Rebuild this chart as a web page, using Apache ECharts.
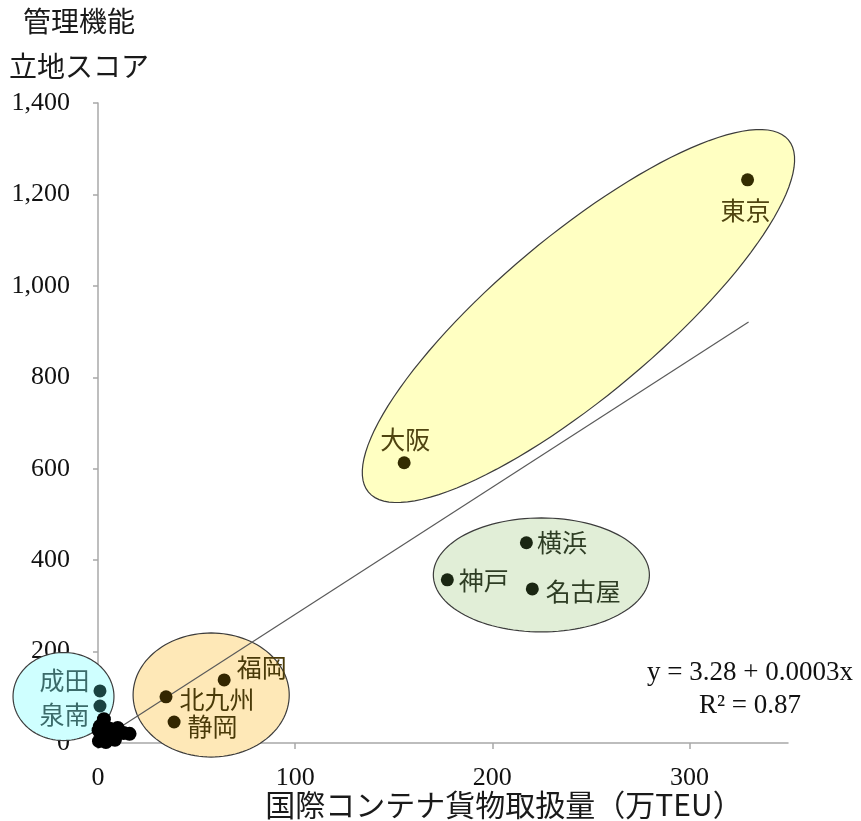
<!DOCTYPE html>
<html>
<head>
<meta charset="utf-8">
<title>管理機能立地スコアと国際コンテナ貨物取扱量</title>
<script src="https://cdn.jsdelivr.net/npm/echarts@6.0.0/dist/echarts.min.js"></script>
<style>
  html, body { margin: 0; padding: 0; background: #ffffff; }
  #chart { width: 861px; height: 821px; }
</style>
</head>
<body>
<div id="chart"></div>
<script>
// ---- data -------------------------------------------------------------
// named cities: container throughput (万TEU) and management-function score
const cities = ['東京', '大阪', '横浜', '神戸', '名古屋', '福岡', '北九州', '静岡', '成田', '泉南'];
const cityTeu = [329.5, 155.3, 217.3, 177.2, 220.3, 64.0, 34.5, 38.6, 1.0, 1.0];
const cityScore = [1232, 613, 438, 357, 337, 138, 101, 46, 114, 81];
const cityGroup = ['metro', 'metro', 'port', 'port', 'port', 'regional', 'regional', 'regional', 'airport', 'airport'];

// remaining small cities clustered near the origin
const otherTeu = [3.0, 1.0, 2.0, 0.5, 5.0, 7.6, 10.0, 13.0, 16.0, 8.6, 4.0, 6.0, 0.3];
const otherScore = [52, 37, 17, 4, 11, 26, 33, 22, 20, 7, 2, 31, 28];

// axis ticks
const xTicks = [0, 100, 200, 300];
const yTicks = [0, 200, 400, 600, 800, 1000, 1200, 1400];

// linear fit: y = 3.28 + 0.0003x (x in TEU) -> slope per 万TEU
const trendIntercept = 3.28;
const trendSlope = 2.78;
const trendRange = [0, 330];
const trendText = 'y = 3.28 + 0.0003x\nR² = 0.87';

// group outlines: centre (x, y) and two conjugate half-axis vectors, in data units
const groupNames = ['airport', 'regional', 'port', 'metro'];
const groupCx = [-17.5, 57.4, 224.9, 243.7];
const groupCy = [101.7, 105.0, 367.6, 934.0];
const groupUx = [25.6, 39.6, 54.8, 106.5];
const groupUy = [0, 0, 0, 385.3];
const groupVx = [0, 0, 0, -26.1];
const groupVy = [96.3, 135.7, 124.7, 134.1];

// ---- styles -----------------------------------------------------------
const groupStyle = {
  metro:    { fill: '#FFFFC2', dot: '#332C00', text: '#4F4410' },
  port:     { fill: '#E1EED7', dot: '#1A2612', text: '#2E3D24' },
  regional: { fill: '#FEE8B7', dot: '#332600', text: '#4A3A08' },
  airport:  { fill: '#CFFFFF', dot: '#1A4241', text: '#3B6B6A' }
};
const labelPlace = {
  '東京':   { position: 'bottom', distance: 12, offset: [-2, 0] },
  '大阪':   { position: 'top', distance: 4, offset: [1, 0] },
  '横浜':   { position: 'right', distance: 4, offset: [0, 0] },
  '神戸':   { position: 'right', distance: 5, offset: [0, 1] },
  '名古屋': { position: 'right', distance: 7, offset: [0, 3] },
  '福岡':   { position: 'right', distance: 6, offset: [0, -12] },
  '北九州': { position: 'right', distance: 7, offset: [0, 3] },
  '静岡':   { position: 'right', distance: 7, offset: [0, 5] },
  '成田':   { position: 'left', distance: 4, offset: [0, -10] },
  '泉南':   { position: 'left', distance: 4, offset: [0, 9] }
};
const cjkFont = '"Noto Sans CJK JP", "Noto Sans", sans-serif';
const serifFont = '"Liberation Serif", "DejaVu Serif", serif';
const axisGray = '#A8A8A8';

// ---- series data ------------------------------------------------------
const cityData = cities.map((name, i) => {
  const st = groupStyle[cityGroup[i]];
  return {
    name: name,
    value: [cityTeu[i], cityScore[i]],
    itemStyle: { color: st.dot, opacity: 1 },
    label: Object.assign({
      show: true,
      formatter: '{b}',
      color: st.text,
      fontFamily: cjkFont,
      fontSize: 25
    }, labelPlace[name])
  };
});
const otherData = otherTeu.map((x, i) => [x, otherScore[i]]);
const ellipseData = groupNames.map((g, i) =>
  [groupCx[i], groupCy[i], groupUx[i], groupUy[i], groupVx[i], groupVy[i], i]);
const trendData = trendRange.map(x => [x, trendIntercept + trendSlope * x]);

function renderEllipse(params, api) {
  const cx = api.value(0), cy = api.value(1);
  const ux = api.value(2), uy = api.value(3);
  const vx = api.value(4), vy = api.value(5);
  const st = groupStyle[groupNames[api.value(6)]];
  const pts = [];
  const n = 120;
  for (let k = 0; k < n; k++) {
    const t = (k / n) * Math.PI * 2;
    const c = Math.cos(t), s = Math.sin(t);
    pts.push(api.coord([cx + ux * c + vx * s, cy + uy * c + vy * s]));
  }
  return {
    type: 'polygon',
    shape: { points: pts },
    style: { fill: st.fill, stroke: '#3C3C3C', lineWidth: 1.2 }
  };
}

const chart = echarts.init(document.getElementById('chart'), null, { renderer: 'canvas' });
chart.setOption({
  animation: false,
  backgroundColor: '#ffffff',
  grid: { left: 98, top: 103, right: 73, bottom: 78, containLabel: false },
  xAxis: {
    type: 'value',
    min: 0,
    max: 350,
    interval: 100,
    splitLine: { show: false },
    axisLine: { show: true, onZero: false, lineStyle: { color: axisGray, width: 1.5 } },
    axisTick: { show: true, length: 6, lineStyle: { color: axisGray, width: 1.5 },
                customValues: xTicks },
    axisLabel: { show: true, margin: 22, color: '#111', fontFamily: serifFont, fontSize: 26,
                 customValues: xTicks }
  },
  yAxis: {
    type: 'value',
    min: 0,
    max: 1400,
    interval: 200,
    splitLine: { show: false },
    axisLine: { show: true, lineStyle: { color: axisGray, width: 1.5 } },
    axisTick: { show: true, length: 5, lineStyle: { color: axisGray, width: 1.5 } },
    axisLabel: {
      show: true, margin: 28, color: '#111', fontFamily: serifFont, fontSize: 26,
      formatter: v => v.toLocaleString('en-US')
    }
  },
  graphic: [
    {
      type: 'text', x: 79, y: 44,
      style: {
        text: '管理機能\n立地スコア', font: '28px ' + cjkFont, fill: '#1A1A1A',
        align: 'center', verticalAlign: 'middle', lineHeight: 45
      }
    },
    {
      type: 'text', x: 504, y: 805,
      style: {
        text: '国際コンテナ貨物取扱量（万TEU）', font: '30px ' + cjkFont, fill: '#1A1A1A',
        align: 'center', verticalAlign: 'middle'
      }
    },
    {
      type: 'text', x: 750, y: 689,
      style: {
        text: trendText, font: '27px ' + serifFont, fill: '#111',
        align: 'center', verticalAlign: 'middle', lineHeight: 33
      }
    }
  ],
  series: [
    {
      type: 'custom',
      z: 1,
      clip: false,
      silent: true,
      renderItem: renderEllipse,
      data: ellipseData
    },
    {
      type: 'line',
      z: 2,
      data: trendData,
      showSymbol: false,
      lineStyle: { color: '#5A5A5A', width: 1.2 },
      silent: true
    },
    {
      type: 'scatter',
      z: 3,
      symbolSize: 14,
      itemStyle: { color: '#000000', opacity: 1 },
      data: otherData
    },
    {
      type: 'scatter',
      z: 4,
      symbolSize: 13,
      itemStyle: { opacity: 1 },
      data: cityData
    }
  ]
});
</script>
</body>
</html>
